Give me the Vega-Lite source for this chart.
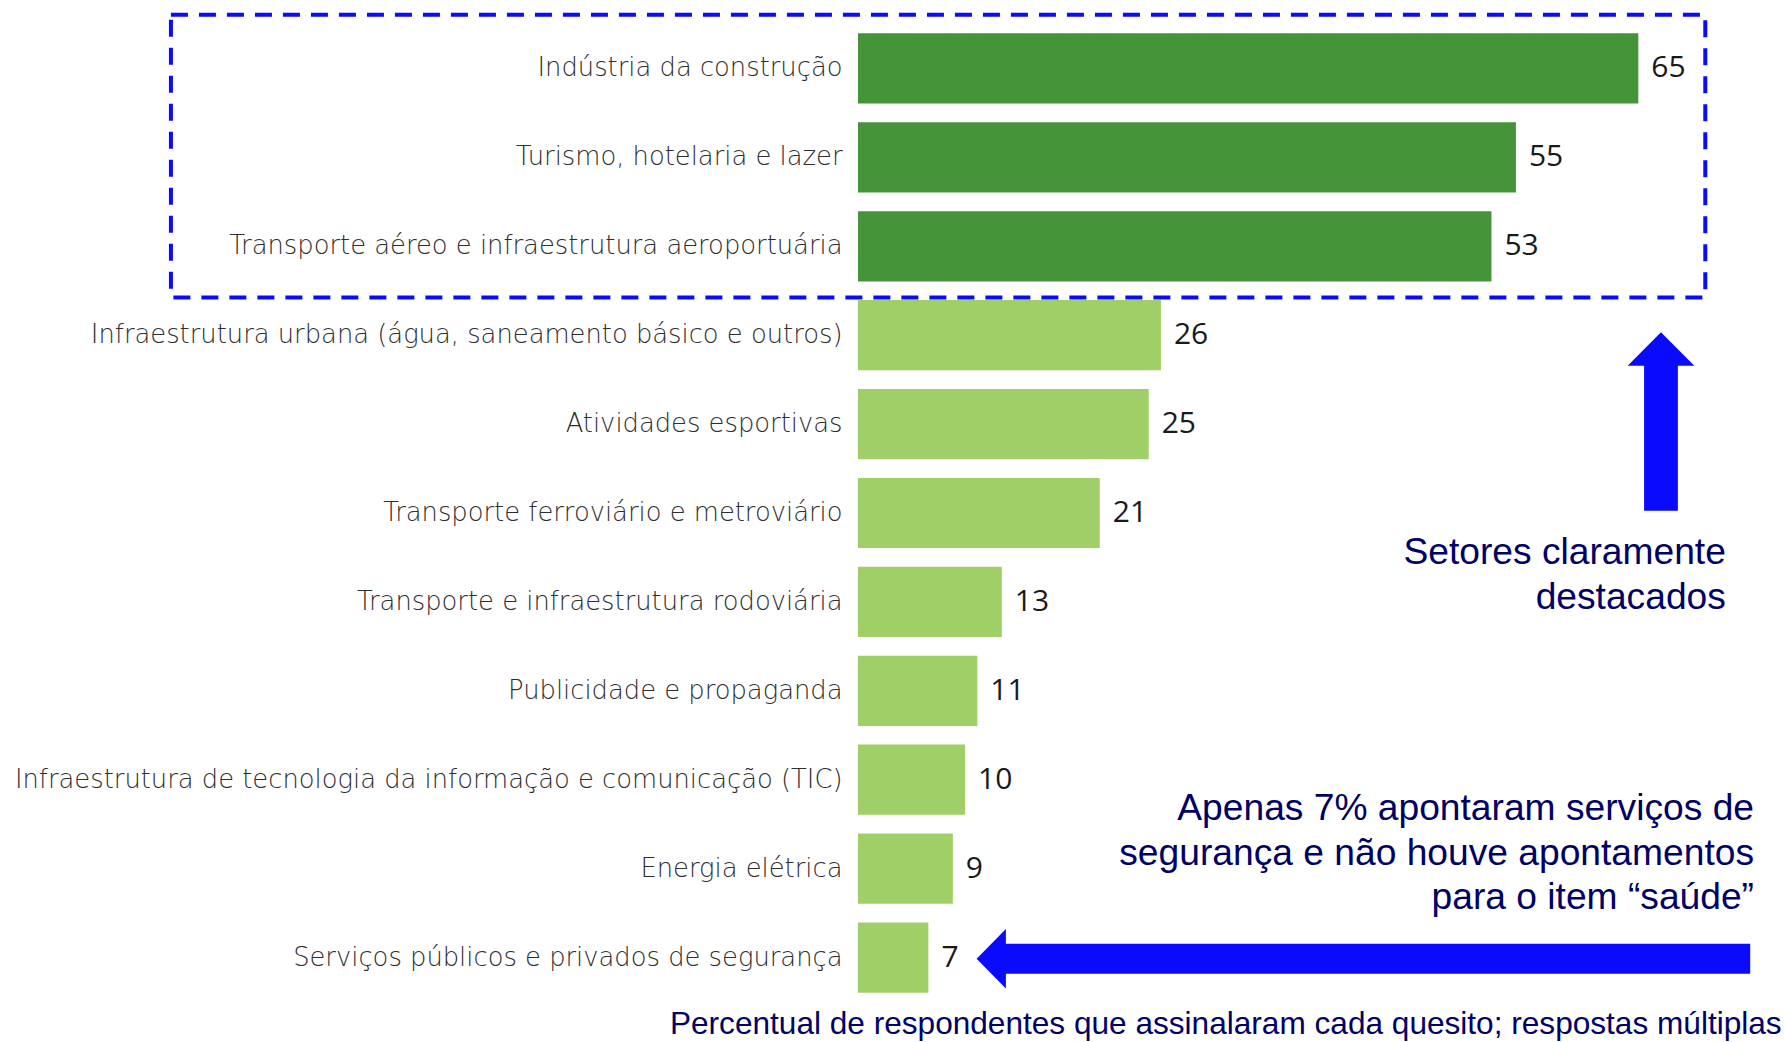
{
  "$schema": "https://vega.github.io/schema/vega-lite/v6.json",
  "width": 926,
  "height": 978,
  "autosize": "none",
  "padding": {"left": 858, "top": 24, "right": 0, "bottom": 40},
  "background": "white",
  "config": {"view": {"stroke": null}},
  "datasets": {
    "sectors": [
      {"sector": "Indústria da construção", "value": 65, "group": "destaque"},
      {"sector": "Turismo, hotelaria e lazer", "value": 55, "group": "destaque"},
      {"sector": "Transporte aéreo e infraestrutura aeroportuária", "value": 53, "group": "destaque"},
      {"sector": "Infraestrutura urbana (água, saneamento básico e outros)", "value": 26, "group": "outros"},
      {"sector": "Atividades esportivas", "value": 25, "group": "outros"},
      {"sector": "Transporte ferroviário e metroviário", "value": 21, "group": "outros"},
      {"sector": "Transporte e infraestrutura rodoviária", "value": 13, "group": "outros"},
      {"sector": "Publicidade e propaganda", "value": 11, "group": "outros"},
      {"sector": "Infraestrutura de tecnologia da informação e comunicação (TIC)", "value": 10, "group": "outros"},
      {"sector": "Energia elétrica", "value": 9, "group": "outros"},
      {"sector": "Serviços públicos e privados de segurança", "value": 7, "group": "outros"}
    ]
  },
  "resolve": {"scale": {"x": "independent", "y": "independent"}, "axis": {"x": "independent", "y": "independent"}},
  "layer": [
    {
      "data": {"name": "sectors"},
      "layer": [
        {
          "mark": {"type": "bar", "clip": true},
          "encoding": {
            "y": {"field": "sector", "type": "nominal", "sort": null,
              "scale": {"paddingInner": 0.21, "paddingOuter": 0.105},
              "axis": {"title": null, "ticks": false, "tickSize": 0, "domain": false, "labelPadding": 16, "labelLimit": 0,
                "labelFont": "DejaVu Sans", "labelFontWeight": 200, "labelFontSize": 25.8, "labelColor": "#2e2e2e"}},
            "x": {"field": "value", "type": "quantitative",
              "scale": {"domain": [1.25, 76.9], "nice": false, "zero": false}, "axis": null},
            "color": {"field": "group", "type": "nominal",
              "scale": {"domain": ["destaque", "outros"], "range": ["#45943a", "#a1cf67"]}, "legend": null}
          }
        },
        {
          "mark": {"type": "text", "align": "left", "baseline": "middle", "dx": 13, "font": "Open Sans", "fontSize": 30, "color": "#1a1a1a"},
          "encoding": {
            "y": {"field": "sector", "type": "nominal", "sort": null,
              "scale": {"paddingInner": 0.21, "paddingOuter": 0.105}},
            "x": {"field": "value", "type": "quantitative",
              "scale": {"domain": [1.25, 76.9], "nice": false, "zero": false}, "axis": null},
            "text": {"field": "value", "type": "quantitative"}
          }
        }
      ]
    },
    {
      "data": {"values": [{"x1": -54.88, "x2": 70.47, "y1": -0.105, "y2": 3.075}]},
      "mark": {"type": "rect", "filled": false, "stroke": "#0a0aff", "strokeWidth": 4, "strokeDash": [17, 11]},
      "encoding": {
        "x": {"field": "x1", "type": "quantitative", "scale": {"domain": [1.25, 76.9], "nice": false, "zero": false}, "axis": null},
        "x2": {"field": "x2"},
        "y": {"field": "y1", "type": "quantitative", "scale": {"domain": [0, 11], "reverse": true, "nice": false, "zero": false}, "axis": null},
        "y2": {"field": "y2"}
      }
    },
    {
      "data": {"values": [{"x": 66.85, "y": 4.471}]},
      "mark": {"type": "point", "filled": true, "opacity": 1, "color": "#0a0aff", "strokeWidth": 0,
        "shape": "M0,-1 L0.373,-0.623 L0.189,-0.623 L0.189,1 L-0.189,1 L-0.189,-0.623 L-0.373,-0.623 Z", "size": 31934},
      "encoding": {
        "x": {"field": "x", "type": "quantitative", "scale": {"domain": [1.25, 76.9], "nice": false, "zero": false}, "axis": null},
        "y": {"field": "y", "type": "quantitative", "scale": {"domain": [0, 11], "reverse": true, "nice": false, "zero": false}, "axis": null}
      }
    },
    {
      "data": {"values": [{"x": 42.54, "y": 10.513}]},
      "mark": {"type": "point", "filled": true, "opacity": 1, "color": "#0a0aff", "strokeWidth": 0,
        "shape": "M-1,0 L-0.9243,-0.0768 L-0.9243,-0.0388 L1,-0.0388 L1,0.0388 L-0.9243,0.0388 L-0.9243,0.0768 Z", "size": 598457},
      "encoding": {
        "x": {"field": "x", "type": "quantitative", "scale": {"domain": [1.25, 76.9], "nice": false, "zero": false}, "axis": null},
        "y": {"field": "y", "type": "quantitative", "scale": {"domain": [0, 11], "reverse": true, "nice": false, "zero": false}, "axis": null}
      }
    },
    {
      "data": {"values": [
        {"x": 72.15, "y": 5.95, "note": "Setores claramente\ndestacados"},
        {"x": 74.45, "y": 8.832, "note": "Apenas 7% apontaram serviços de\nsegurança e não houve apontamentos\npara o item “saúde”"}
      ]},
      "mark": {"type": "text", "align": "right", "baseline": "middle", "lineBreak": "\n", "lineHeight": 44.5,
        "font": "Liberation Sans", "fontSize": 37.2, "color": "#000066"},
      "encoding": {
        "x": {"field": "x", "type": "quantitative", "scale": {"domain": [1.25, 76.9], "nice": false, "zero": false}, "axis": null},
        "y": {"field": "y", "type": "quantitative", "scale": {"domain": [0, 11], "reverse": true, "nice": false, "zero": false}, "axis": null},
        "text": {"field": "note", "type": "nominal"}
      }
    },
    {
      "data": {"values": [{"x": 76.71, "y": 11.262, "note": "Percentual de respondentes que assinalaram cada quesito; respostas múltiplas"}]},
      "mark": {"type": "text", "align": "right", "baseline": "middle", "font": "Liberation Sans", "fontSize": 31.6, "color": "#000066"},
      "encoding": {
        "x": {"field": "x", "type": "quantitative", "scale": {"domain": [1.25, 76.9], "nice": false, "zero": false}, "axis": null},
        "y": {"field": "y", "type": "quantitative", "scale": {"domain": [0, 11], "reverse": true, "nice": false, "zero": false}, "axis": null},
        "text": {"field": "note", "type": "nominal"}
      }
    }
  ]
}
